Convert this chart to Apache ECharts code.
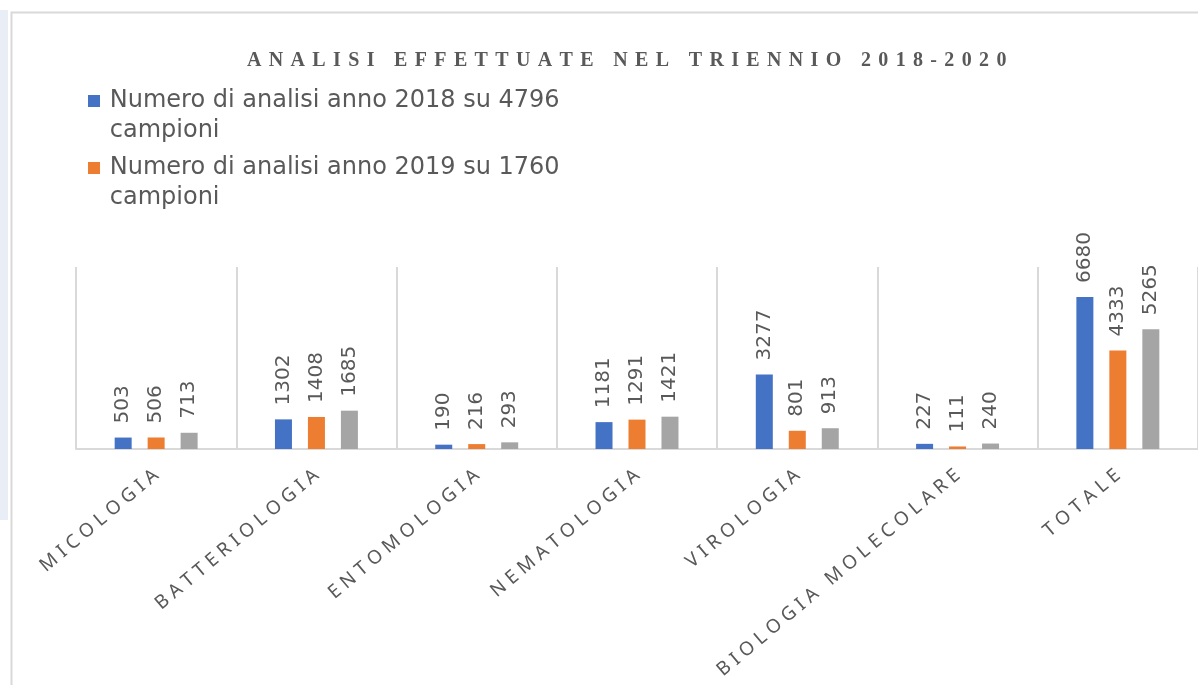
<!DOCTYPE html>
<html>
<head>
<meta charset="utf-8">
<script src="https://cdn.jsdelivr.net/npm/echarts@6/dist/echarts.min.js"></script>
<style>
html, body { margin: 0; padding: 0; background: #fff; }
#main { width: 1198px; height: 685px; }
</style>
</head>
<body>
<div id="main"></div>
<script>
var titleText = 'ANALISI EFFETTUATE NEL TRIENNIO 2018-2020';
var categories = ['MICOLOGIA', 'BATTERIOLOGIA', 'ENTOMOLOGIA', 'NEMATOLOGIA', 'VIROLOGIA', 'BIOLOGIA MOLECOLARE', 'TOTALE'];
var seriesNames = [
    'Numero di analisi anno 2018 su 4796 campioni',
    'Numero di analisi anno 2019 su 1760 campioni',
    'Numero di analisi anno 2020'
];
var data2018 = [503, 1302, 190, 1181, 3277, 227, 6680];
var data2019 = [506, 1408, 216, 1291, 801, 111, 4333];
var data2020 = [713, 1685, 293, 1421, 913, 240, 5265];
var colors = ['#4472c4', '#ed7d31', '#a5a5a5'];

// spread letters out a bit, like the excel original
function spaced(s, sp) {
    return s.split('').join(sp);
}

var myChart = echarts.init(document.getElementById('main'));

function barSeries(name, data) {
    return {
        name: name,
        type: 'bar',
        barWidth: 17,
        barGap: '94%',
        data: data,
        label: {
            show: true,
            position: 'top',
            rotate: 90,
            align: 'left',
            verticalAlign: 'middle',
            distance: 14,
            color: '#595959',
            fontFamily: 'DejaVu Sans',
            fontSize: 20
        }
    };
}

myChart.setOption({
    backgroundColor: '#fff',
    color: colors,
    animation: false,
    title: {
        text: spaced(titleText, '\u2009\u200a\u200a'),
        left: 242,
        top: 46,
        textStyle: {
            fontFamily: 'Liberation Serif',
            fontWeight: 'bold',
            fontSize: 20,
            color: '#595959'
        }
    },
    legend: {
        data: [seriesNames[0], seriesNames[1]],
        orient: 'vertical',
        left: 83,
        top: 51,
        icon: 'rect',
        itemWidth: 12,
        itemHeight: 12,
        itemGap: -23,
        formatter: function (name) {
            // blank first line keeps the square level with the first text line
            return ' \n\u2009' + name.replace(' campioni', '\n\u2009campioni');
        },
        textStyle: {
            fontFamily: 'DejaVu Sans',
            fontSize: 24,
            lineHeight: 30,
            color: '#595959'
        }
    },
    grid: {
        left: 76,
        top: 267,
        width: 1141,
        height: 182
    },
    xAxis: {
        type: 'category',
        data: categories,
        axisLine: { lineStyle: { color: '#d9d9d9', width: 2 } },
        axisTick: { show: false },
        splitLine: { show: true, lineStyle: { color: '#d9d9d9', width: 2 } },
        axisLabel: {
            interval: 0,
            rotate: 40,
            margin: 24,
            color: '#595959',
            fontFamily: 'Noto Sans',
            fontSize: 19,
            formatter: function (v) { return spaced(v, '\u2009\u200a'); }
        }
    },
    yAxis: {
        type: 'value',
        min: 0,
        max: 8000,
        show: false
    },
    graphic: [
        { type: 'rect', left: 0, top: 10, shape: { width: 8, height: 510 }, style: { fill: '#e8edf6' }, silent: true },
        { type: 'rect', left: 9, top: 10, shape: { width: 1300, height: 800 }, style: { fill: 'none', stroke: '#d9d9d9', lineWidth: 2 }, silent: true }
    ],
    series: [
        barSeries(seriesNames[0], data2018),
        barSeries(seriesNames[1], data2019),
        barSeries(seriesNames[2], data2020)
    ]
});
</script>
</body>
</html>
